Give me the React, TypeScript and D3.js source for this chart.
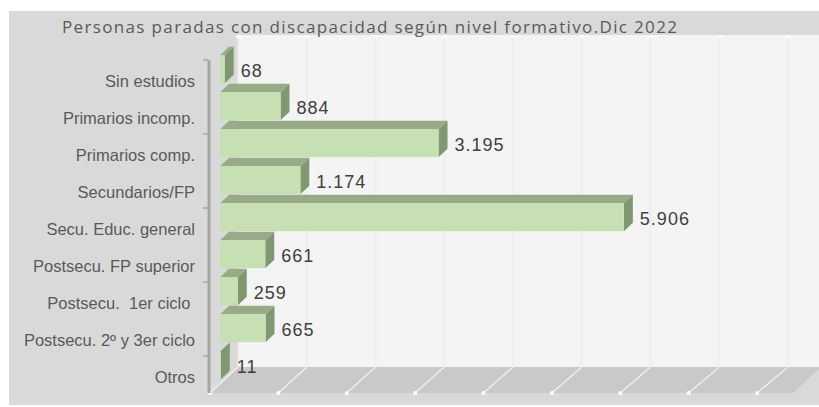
import React from "react";
import * as d3 from "d3";

const categories = [
  "Sin estudios",
  "Primarios incomp.",
  "Primarios comp.",
  "Secundarios/FP",
  "Secu. Educ. general",
  "Postsecu. FP superior",
  "Postsecu.  1er ciclo ",
  "Postsecu. 2º y 3er ciclo",
  "Otros",
];
const values = [68, 884, 3195, 1174, 5906, 661, 259, 665, 11];
const axisMax = 8000;
const tickStep = 1000;
const title = "Personas paradas con discapacidad según nivel formativo.Dic 2022";

const W = 819;
const H = 407;

const esLocale = d3.formatLocale({
  decimal: ",",
  thousands: ".",
  grouping: [3],
  currency: ["", " €"],
});
const fmt = esLocale.format(",d");

export default function App() {
  const xFront = d3.scaleLinear().domain([0, axisMax]).range([210, 757]);
  const xBack = d3.scaleLinear().domain([0, axisMax]).range([238, 788]);
  const yFront = 393;
  const yBack = 367;
  const depthDx = 28;
  const depthDy = yBack - yFront;

  const yBand = d3
    .scaleBand<string>()
    .domain(categories)
    .range([60, 393])
    .paddingInner(0.243)
    .paddingOuter(0.1215);

  const t0 = 0.36;
  const t1 = 0.68;
  const off0 = { x: depthDx * t0, y: depthDy * t0 };
  const barD = { x: depthDx * (t1 - t0), y: depthDy * (t1 - t0) };

  const ticks = d3.range(0, axisMax + 1, tickStep);
  const bh = yBand.bandwidth();
  const step = yBand.step();
  const yTicks = d3.range(0, categories.length + 1, 2).map((k) => 60 + k * step);

  return (
    <svg width={W} height={H} style={{ position: "absolute", left: 0, top: 0 }}>
      <rect x={0} y={0} width={W} height={H} fill="#ffffff" />
      <rect x={9} y={11} width={W - 9} height={394} fill="#d9d9d9" />
      <rect x={238} y={35} width={W - 238} height={yBack - 35} fill="#f4f4f4" />
      {ticks.map((t) => (
        <g key={"g" + t}>
          <line
            x1={xBack(t)}
            x2={xBack(t)}
            y1={35}
            y2={yBack}
            stroke="#ececec"
            strokeWidth={1.3}
          />
          <rect x={xBack(t) - 2} y={35} width={5} height={3} fill="#fbfbfb" />
        </g>
      ))}
      <polygon
        points={`210,${yFront} 793,${yFront} ${793 + depthDx},${yBack} 238,${yBack}`}
        fill="#c9c9c9"
      />
      {ticks.map((t) => (
        <g key={"f" + t}>
          <line
            x1={xFront(t)}
            y1={yFront}
            x2={xBack(t)}
            y2={yBack}
            stroke="#f0f0f0"
            strokeWidth={1.3}
          />
          <circle cx={xFront(t)} cy={yFront} r={2} fill="#ffffff" />
        </g>
      ))}
      <line x1={209} x2={209} y1={60} y2={393} stroke="#a6a6a6" strokeWidth={3} />
      {yTicks.map((y) => (
        <line key={"yt" + y} x1={203} x2={208} y1={y} y2={y} stroke="#a6a6a6" strokeWidth={1.5} />
      ))}
      {categories.map((c, i) => {
        const v = values[i];
        const x0 = xFront(0) + off0.x;
        const x1 = xFront(v) + off0.x;
        const y0 = (yBand(c) as number) + off0.y;
        const y1 = y0 + bh;
        const top = `${x0},${y0} ${x1},${y0} ${x1 + barD.x},${y0 + barD.y} ${x0 + barD.x},${y0 + barD.y}`;
        const side = `${x1},${y0} ${x1 + barD.x},${y0 + barD.y} ${x1 + barD.x},${y1 + barD.y} ${x1},${y1}`;
        return (
          <g key={c}>
            <polygon points={top} fill="#97ab87" />
            <polygon points={side} fill="#7f9872" />
            <rect x={x0} y={y0} width={x1 - x0} height={bh} fill="#c6e0b4" />
            <text
              x={x1 + barD.x + 7}
              y={(y0 + y1) / 2 + 7.5}
              fontFamily="'Liberation Sans', Arial, sans-serif"
              fontSize={18}
              letterSpacing={1}
              fill="#404040"
            >
              {fmt(v)}
            </text>
          </g>
        );
      })}
      {categories.map((c) => (
        <text
          key={"l" + c}
          x={195}
          y={(yBand(c) as number) + bh / 2 + 8.5}
          textAnchor="end"
          fontFamily="'Liberation Sans', Arial, sans-serif"
          fontSize={16.5}
          fill="#595959"
          style={{ whiteSpace: "pre" }}
        >
          {c}
        </text>
      ))}
      <text
        x={62}
        y={33}
        fontFamily="'Open Sans', 'Liberation Sans', sans-serif"
        fontSize={17}
        fill="#595959"
        textLength={615}
        lengthAdjust="spacing"
      >
        {title}
      </text>
    </svg>
  );
}
